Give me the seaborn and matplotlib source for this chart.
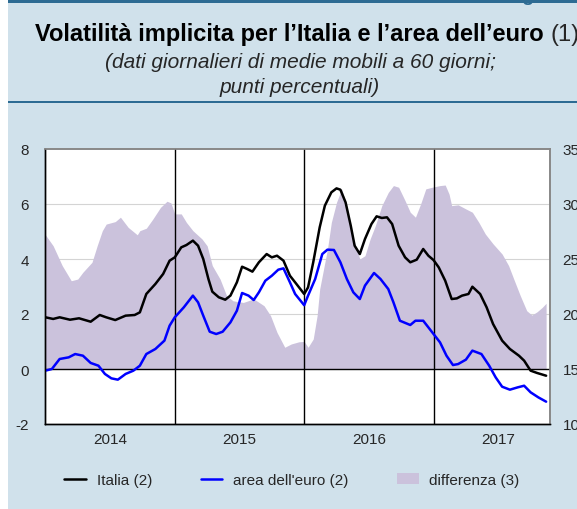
import numpy as np
import seaborn as sns
import matplotlib.pyplot as plt
from matplotlib.lines import Line2D
from matplotlib.patches import Patch, Rectangle


# differenza (scala sinistra, punti percentuali)
DIFF_T = [
    2014.00, 2014.06, 2014.13, 2014.20, 2014.25, 2014.29, 2014.36, 2014.40,
    2014.44, 2014.47, 2014.54, 2014.58, 2014.64, 2014.71, 2014.73, 2014.78,
    2014.83, 2014.89, 2014.94, 2014.97, 2015.00, 2015.05, 2015.09, 2015.14,
    2015.21, 2015.25, 2015.29, 2015.35, 2015.40, 2015.45, 2015.53, 2015.61,
    2015.69, 2015.74, 2015.79, 2015.85, 2015.90, 2015.96, 2016.00, 2016.03,
    2016.07, 2016.10, 2016.12, 2016.18, 2016.21, 2016.25, 2016.29, 2016.33,
    2016.38, 2016.43, 2016.47, 2016.51, 2016.55, 2016.60, 2016.65, 2016.69,
    2016.73, 2016.78, 2016.82, 2016.86, 2016.90, 2016.94, 2016.99, 2017.05,
    2017.09, 2017.12, 2017.14, 2017.19, 2017.25, 2017.30, 2017.35, 2017.40,
    2017.46, 2017.53, 2017.58, 2017.62, 2017.67, 2017.72, 2017.76, 2017.80,
    2017.84, 2017.87,
]
DIFF_V = [
    4.88, 4.48, 3.76, 3.21, 3.27, 3.52, 3.88, 4.48,
    5.03, 5.27, 5.36, 5.52, 5.15, 4.88, 5.03, 5.12,
    5.45, 5.88, 6.10, 6.04, 5.64, 5.64, 5.33, 5.03,
    4.73, 4.48, 3.76, 3.27, 2.67, 2.48, 2.42, 2.55,
    2.30, 1.94, 1.33, 0.79, 0.91, 0.99, 1.00, 0.79,
    1.09, 1.94, 2.91, 4.36, 5.33, 6.06, 6.55, 5.94,
    4.73, 4.00, 4.12, 4.73, 5.21, 5.94, 6.42, 6.67,
    6.61, 6.12, 5.70, 5.52, 6.00, 6.55, 6.61, 6.67,
    6.69, 6.36, 5.94, 5.97, 5.82, 5.70, 5.33, 4.91,
    4.55, 4.18, 3.76, 3.27, 2.67, 2.12, 1.96, 2.08,
    2.24, 2.39,
]

# Italia (scala destra)
ITA_T = [
    2014.00, 2014.06, 2014.11, 2014.19, 2014.26, 2014.35, 2014.42, 2014.47,
    2014.54, 2014.62, 2014.69, 2014.73, 2014.78, 2014.85, 2014.91, 2014.96,
    2015.00, 2015.05, 2015.09, 2015.14, 2015.18, 2015.22, 2015.26, 2015.29,
    2015.34, 2015.39, 2015.43, 2015.48, 2015.52, 2015.56, 2015.60, 2015.65,
    2015.71, 2015.75, 2015.79, 2015.84, 2015.89, 2015.94, 2016.00, 2016.03,
    2016.07, 2016.12, 2016.16, 2016.21, 2016.25, 2016.28, 2016.32, 2016.36,
    2016.39, 2016.43, 2016.47, 2016.52, 2016.56, 2016.60, 2016.64, 2016.68,
    2016.73, 2016.78, 2016.82, 2016.87, 2016.92, 2016.96, 2017.00, 2017.04,
    2017.09, 2017.14, 2017.18, 2017.22, 2017.27, 2017.30, 2017.36, 2017.41,
    2017.46, 2017.53, 2017.59, 2017.66, 2017.70, 2017.75, 2017.80, 2017.87,
]
ITA_V = [
    19.70, 19.55, 19.70, 19.48, 19.61, 19.30, 19.91, 19.70,
    19.45, 19.85, 19.91, 20.15, 21.82, 22.73, 23.64, 24.85,
    25.15, 26.06, 26.27, 26.67, 26.21, 25.00, 23.18, 22.03,
    21.52, 21.30, 21.67, 22.88, 24.30, 24.09, 23.85, 24.70,
    25.45, 25.15, 25.30, 24.85, 23.48, 22.73, 21.82, 22.42,
    24.70, 27.88, 29.85, 31.06, 31.42, 31.30, 30.15, 28.03,
    26.21, 25.45, 26.82, 28.18, 28.88, 28.73, 28.79, 28.18,
    26.21, 25.15, 24.70, 24.94, 25.91, 25.30, 24.90, 24.24,
    23.03, 21.36, 21.42, 21.67, 21.82, 22.48, 21.82, 20.61,
    19.09, 17.58, 16.82, 16.21, 15.76, 14.85, 14.64, 14.39,
]

# area dell'euro (scala destra)
EUR_T = [
    2014.00, 2014.05, 2014.11, 2014.18, 2014.23, 2014.29, 2014.35, 2014.41,
    2014.46, 2014.51, 2014.56, 2014.62, 2014.68, 2014.73, 2014.78, 2014.85,
    2014.92, 2014.96, 2015.00, 2015.07, 2015.14, 2015.18, 2015.22, 2015.27,
    2015.32, 2015.37, 2015.43, 2015.48, 2015.52, 2015.57, 2015.61, 2015.65,
    2015.70, 2015.75, 2015.80, 2015.84, 2015.89, 2015.93, 2016.00, 2016.03,
    2016.085, 2016.14, 2016.18, 2016.23, 2016.28, 2016.33, 2016.38, 2016.43,
    2016.47, 2016.54, 2016.59, 2016.65, 2016.69, 2016.74, 2016.82, 2016.86,
    2016.92, 2016.99, 2017.05, 2017.10, 2017.15, 2017.19, 2017.25, 2017.30,
    2017.37, 2017.43, 2017.48, 2017.53, 2017.59, 2017.65, 2017.70, 2017.75,
    2017.81, 2017.87,
]
EUR_V = [
    14.85, 15.00, 15.91, 16.06, 16.36, 16.21, 15.55, 15.30,
    14.55, 14.15, 14.03, 14.55, 14.85, 15.30, 16.36, 16.82,
    17.58, 18.94, 19.70, 20.61, 21.67, 21.06, 19.85, 18.39,
    18.18, 18.39, 19.24, 20.30, 21.91, 21.67, 21.27, 21.97,
    23.03, 23.48, 24.03, 24.15, 22.88, 21.82, 20.80, 21.67,
    23.18, 25.45, 25.85, 25.82, 24.70, 23.18, 21.97, 21.36,
    22.58, 23.73, 23.18, 22.27, 21.06, 19.39, 19.00, 19.39,
    19.39, 18.33, 17.42, 16.21, 15.36, 15.45, 15.85, 16.67,
    16.36, 15.30, 14.24, 13.39, 13.12, 13.33, 13.48, 12.88,
    12.42, 12.03,
]

YEARS = [2014, 2015, 2016, 2017]
LEFT_TICKS = [-2, 0, 2, 4, 6, 8]
RIGHT_TICKS = [10, 15, 20, 25, 30, 35]

TITLE = 'Volatilità implicita per l’Italia e l’area dell’euro'
SUBTITLE = '(dati giornalieri di medie mobili a 60 giorni;\npunti percentuali)'
LEGEND = ['Italia (2)', "area dell'euro (2)", 'differenza (3)']

PANEL = '#d0e1eb'
DARK = '#2d6b93'
LILAC = '#cbc2dc'

W, H = 577, 510


def fx(px):
    return px / W


def fy(py):
    return 1 - py / H


def main():
    sns.set_style('white')
    plt.rcParams['font.family'] = ['Liberation Sans', 'DejaVu Sans']

    fig = plt.figure(figsize=(W / 100, H / 100), dpi=100)
    fig.patch.set_facecolor('white')

    # pannello azzurro, barra superiore e filetto sotto il titolo
    fig.patches.append(Rectangle(
        (fx(8), 0), 1 - fx(8), fy(0), transform=fig.transFigure,
        facecolor=PANEL, edgecolor='none', zorder=-2
        ))
    fig.patches.append(Rectangle(
        (fx(8), fy(4)), 1 - fx(8), 4 / H, transform=fig.transFigure,
        facecolor=DARK, edgecolor='none', zorder=-1
        ))
    fig.patches.append(Rectangle(
        (fx(8), fy(104)), 1 - fx(8), 2 / H, transform=fig.transFigure,
        facecolor=DARK, edgecolor='none', zorder=-1
        ))
    fig.text(fx(565), fy(1), 'Figura', ha='right', va='baseline',
             fontsize=14, fontweight='bold', color=DARK)

    # titolo: parte in grassetto + "(1)" normale
    t = fig.text(fx(300), fy(35), TITLE + ' ', ha='center', va='center',
                 fontsize=17, fontweight='bold', color='black')
    fig.canvas.draw()
    bb = t.get_window_extent()
    n = fig.text(0, fy(35), '(1)', ha='left', va='center', fontsize=17)
    nb = n.get_window_extent()
    total = bb.width + nb.width
    left = 307 - total / 2
    t.set_x((left + bb.width / 2) / W)
    n.set_x((left + bb.width) / W)
    fig.text(fx(300), fy(75), SUBTITLE, ha='center', va='center',
             fontsize=15, style='italic', linespacing=1.35)

    ax = fig.add_axes([fx(45.4), fy(425), fx(550) - fx(45.4),
                       fy(150) - fy(425)])
    ax.set_facecolor('white')
    ax2 = ax.twinx()
    ax.set_zorder(2)
    ax2.set_zorder(3)

    # differenza come area (scala sinistra)
    ax.fill_between(DIFF_T, 0, DIFF_V, color=LILAC, lw=0, zorder=2)
    for v in [2, 4, 6]:
        ax.axhline(v, color='#d4d4d4', lw=0.8, zorder=1)
    ax.axhline(0, color='black', lw=1, zorder=3)
    for yr in YEARS[1:]:
        ax.axvline(yr, color='black', lw=1, zorder=3)

    # volatilità (scala destra)
    sns.lineplot(x=ITA_T, y=ITA_V, ax=ax2, color='black', lw=1.8,
                 legend=False)
    sns.lineplot(x=EUR_T, y=EUR_V, ax=ax2, color='#0000ff', lw=1.8,
                 legend=False)

    ax.set_xlim(2014.0, 2017.9)
    ax.set_ylim(-2, 8)
    ax2.set_ylim(10, 35)
    ax.set_yticks(LEFT_TICKS)
    ax.set_yticklabels([str(v) for v in LEFT_TICKS])
    ax2.set_yticks(RIGHT_TICKS)
    ax2.set_yticklabels([str(v) for v in RIGHT_TICKS])

    ax.set_xticks([y + 0.5 for y in YEARS])
    ax.set_xticklabels([str(y) for y in YEARS])
    months = [y + m / 12 for y in YEARS for m in range(1, 12)]
    ax.set_xticks([m for m in months if m < 2017.9], minor=True)
    ax.tick_params(axis='x', which='major', direction='in', length=5,
                   width=0.8, pad=6, labelsize=11, color='black')
    ax.tick_params(axis='x', which='minor', direction='in', length=3.5,
                   width=0.8, color='black')
    ax.tick_params(axis='y', length=0, pad=12, labelsize=11)
    ax2.tick_params(axis='y', length=0, pad=9, labelsize=11)
    ax2.tick_params(axis='x', length=0)
    ax2.set_xlabel('')
    ax2.set_ylabel('')

    for a in (ax, ax2):
        for side in ['left', 'bottom']:
            a.spines[side].set_color('black')
            a.spines[side].set_linewidth(1)
        for side in ['top', 'right']:
            a.spines[side].set_color('#888888')
            a.spines[side].set_linewidth(1.2)
    ax2.patch.set_visible(False)

    handles = [
        Line2D([], [], color='black', lw=1.8),
        Line2D([], [], color='#0000ff', lw=1.8),
        Patch(facecolor=LILAC, edgecolor='none'),
    ]
    fig.legend(handles, LEGEND, loc='center', bbox_to_anchor=(fx(292), fy(481)),
               ncol=3, frameon=False, fontsize=11, handlelength=1.4,
               handletextpad=0.7, columnspacing=3.2)

    fig.savefig('out.png', dpi=100, facecolor=fig.get_facecolor())


if __name__ == '__main__':
    main()
